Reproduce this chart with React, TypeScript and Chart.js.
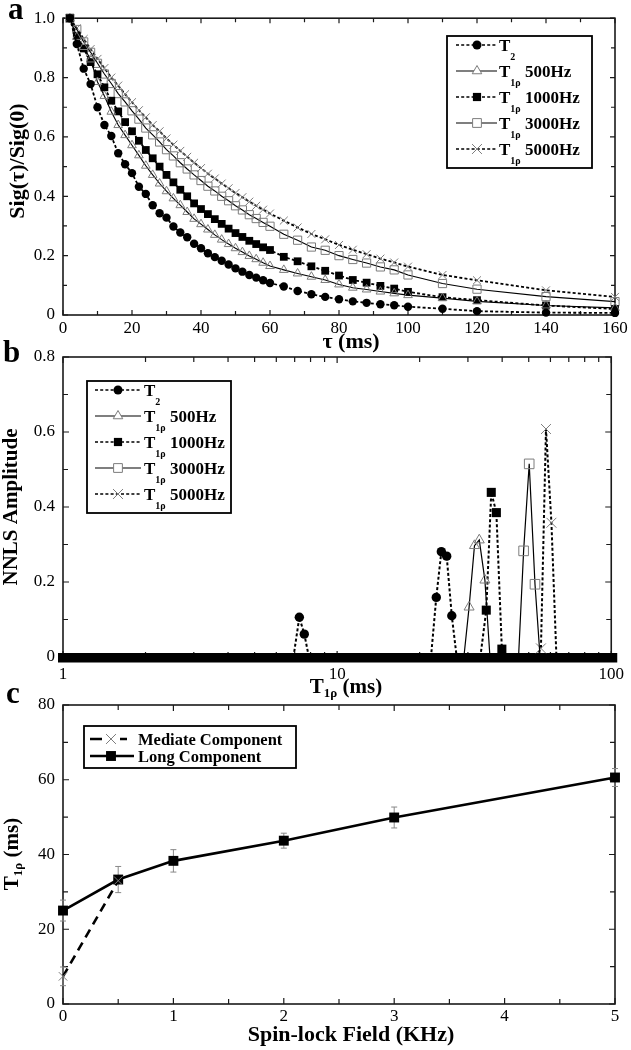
import React, { useEffect, useRef } from "react";
import { Chart, registerables } from "chart.js";

Chart.register(...registerables);

const SERIF = '"Liberation Serif", "Times New Roman", Times, serif';
const GRAY = "#7c7c7c";

// ---------------- Panel a : normalized signal decay ----------------
const tauMs = [2, 4, 6, 8, 10, 12, 14, 16, 18, 20, 22, 24, 26, 28, 30, 32, 34, 36, 38, 40, 42, 44, 46, 48, 50, 52, 54, 56, 58, 60, 64, 68, 72, 76, 80, 84, 88, 92, 96, 100, 110, 120, 140, 160];
const sigT2 = [1.0, 0.913, 0.83, 0.778, 0.7, 0.64, 0.603, 0.545, 0.508, 0.478, 0.432, 0.408, 0.37, 0.343, 0.328, 0.298, 0.278, 0.262, 0.24, 0.225, 0.208, 0.195, 0.183, 0.17, 0.157, 0.146, 0.135, 0.126, 0.117, 0.108, 0.096, 0.081, 0.07, 0.061, 0.053, 0.046, 0.041, 0.036, 0.033, 0.028, 0.021, 0.013, 0.008, 0.007];
const sig500 = [1.0, 0.937, 0.903, 0.861, 0.785, 0.738, 0.685, 0.64, 0.606, 0.572, 0.538, 0.503, 0.472, 0.443, 0.417, 0.393, 0.37, 0.347, 0.324, 0.306, 0.288, 0.27, 0.254, 0.239, 0.225, 0.212, 0.199, 0.188, 0.176, 0.165, 0.152, 0.14, 0.129, 0.118, 0.103, 0.092, 0.086, 0.079, 0.073, 0.067, 0.057, 0.046, 0.032, 0.024];
const sig1000 = [1.0, 0.94, 0.898, 0.852, 0.811, 0.767, 0.722, 0.686, 0.65, 0.619, 0.587, 0.556, 0.528, 0.5, 0.472, 0.447, 0.422, 0.4, 0.376, 0.357, 0.34, 0.323, 0.307, 0.291, 0.276, 0.263, 0.25, 0.239, 0.228, 0.219, 0.196, 0.181, 0.164, 0.149, 0.133, 0.118, 0.109, 0.098, 0.089, 0.078, 0.06, 0.05, 0.032, 0.02];
const sig3000 = [1.0, 0.962, 0.92, 0.885, 0.848, 0.812, 0.78, 0.746, 0.718, 0.688, 0.66, 0.63, 0.607, 0.583, 0.557, 0.536, 0.513, 0.492, 0.472, 0.453, 0.434, 0.418, 0.4, 0.385, 0.368, 0.354, 0.338, 0.325, 0.312, 0.299, 0.272, 0.252, 0.229, 0.218, 0.2, 0.187, 0.175, 0.162, 0.152, 0.135, 0.106, 0.087, 0.062, 0.045];
const sig5000 = [1.0, 0.966, 0.93, 0.896, 0.863, 0.832, 0.8, 0.773, 0.744, 0.717, 0.69, 0.666, 0.64, 0.619, 0.595, 0.574, 0.553, 0.533, 0.513, 0.495, 0.476, 0.46, 0.443, 0.427, 0.411, 0.397, 0.382, 0.368, 0.355, 0.342, 0.318, 0.295, 0.273, 0.255, 0.236, 0.22, 0.205, 0.19, 0.177, 0.163, 0.135, 0.117, 0.083, 0.061];
const aXTicks = [0, 20, 40, 60, 80, 100, 120, 140, 160];
const aXMinor = [10, 30, 50, 70, 90, 110, 130, 150];
const aYTicks = [0, 0.2, 0.4, 0.6, 0.8, 1];
const aYMinor = [0.1, 0.3, 0.5, 0.7, 0.9];

// ---------------- Panel b : NNLS spectra ----------------
const bT2X = [6.93, 7.28, 7.59, 7.89, 22.0, 23.0, 24.0, 25.1, 26.2, 27.3];
const bT2Y = [0, 0.106, 0.061, 0, 0, 0.159, 0.281, 0.269, 0.11, 0];
const b500X = [29.0, 30.3, 31.7, 33.0, 34.6, 36.1];
const b500Y = [0, 0.133, 0.297, 0.312, 0.205, 0];
const b1000X = [33.3, 35.0, 36.5, 38.1, 39.9, 41.6];
const b1000Y = [0, 0.125, 0.439, 0.385, 0.021, 0];
const b3000X = [45.9, 47.9, 50.2, 52.7, 55.0];
const b3000Y = [0, 0.283, 0.515, 0.194, 0];
const b5000X = [53.1, 55.4, 57.8, 60.5, 63.1];
const b5000Y = [0, 0.023, 0.608, 0.358, 0];
const bXTicks = [1, 10, 100];
const bXMinor = [2, 3, 4, 5, 6, 7, 8, 9, 20, 30, 40, 50, 60, 70, 80, 90];
const bYTicks = [0, 0.2, 0.4, 0.6, 0.8];
const bYMinor = [0.1, 0.3, 0.5, 0.7];

// ---------------- Panel c : T1rho vs spin-lock field ----------------
const longField = [0, 0.5, 1, 2, 3, 5];
const longT1rho = [25, 33.3, 38.3, 43.7, 49.9, 60.6];
const longErr = [2.8, 3.5, 3, 2, 2.8, 2.4];
const mediateField = [0, 0.5];
const mediateT1rho = [7.4, 33];
const mediateErr = [2.5, 0];
const cXTicks = [0, 1, 2, 3, 4, 5];
const cXMinor = [0.5, 1.5, 2.5, 3.5, 4.5];
const cYTicks = [0, 20, 40, 60, 80];
const cYMinor = [10, 30, 50, 70];

type Seg = { t: string; sub?: boolean };
type Mk = "circle" | "tri" | "sq" | "osq" | "x";

function drawRich(ctx: CanvasRenderingContext2D, segs: Seg[], x: number, y: number, size: number, subSize: number, subDy: number, align: "left" | "center") {
  const main = `bold ${size}px ${SERIF}`;
  const sub = `bold ${subSize}px ${SERIF}`;
  const widths = segs.map((s) => {
    ctx.font = s.sub ? sub : main;
    return ctx.measureText(s.t).width;
  });
  const total = widths.reduce((a, b) => a + b, 0);
  let cx = align === "center" ? x - total / 2 : x;
  ctx.textAlign = "left";
  ctx.textBaseline = "alphabetic";
  ctx.fillStyle = "#000";
  segs.forEach((s, i) => {
    ctx.font = s.sub ? sub : main;
    ctx.fillText(s.t, cx, s.sub ? y + subDy : y);
    cx += widths[i];
  });
}

function drawMarker(ctx: CanvasRenderingContext2D, mk: Mk, x: number, y: number, r: number) {
  ctx.save();
  ctx.setLineDash([]);
  ctx.lineWidth = 1;
  ctx.beginPath();
  if (mk === "circle") {
    ctx.arc(x, y, r, 0, Math.PI * 2);
    ctx.fillStyle = "#000";
    ctx.fill();
  } else if (mk === "sq" || mk === "osq") {
    const s = r * Math.SQRT1_2;
    ctx.rect(x - s, y - s, 2 * s, 2 * s);
    if (mk === "sq") {
      ctx.fillStyle = "#000";
      ctx.fill();
    } else {
      ctx.fillStyle = "#fff";
      ctx.fill();
      ctx.strokeStyle = GRAY;
      ctx.stroke();
    }
  } else if (mk === "tri") {
    let a = 0;
    ctx.moveTo(x + Math.sin(a) * r, y - Math.cos(a) * r);
    a += (2 * Math.PI) / 3;
    ctx.lineTo(x + Math.sin(a) * r, y - Math.cos(a) * r);
    a += (2 * Math.PI) / 3;
    ctx.lineTo(x + Math.sin(a) * r, y - Math.cos(a) * r);
    ctx.closePath();
    ctx.fillStyle = "#fff";
    ctx.fill();
    ctx.strokeStyle = GRAY;
    ctx.stroke();
  } else {
    const s = r * Math.SQRT1_2;
    ctx.moveTo(x - s, y - s);
    ctx.lineTo(x + s, y + s);
    ctx.moveTo(x + s, y - s);
    ctx.lineTo(x - s, y + s);
    ctx.strokeStyle = GRAY;
    ctx.stroke();
  }
  ctx.restore();
}

function pointProps(mk: Mk, r: number, zeroHidden = false) {
  const radius = zeroHidden ? (c: any) => (c.raw && c.raw.y === 0 ? 0 : r) : r;
  switch (mk) {
    case "circle":
      return { pointStyle: "circle", pointRadius: radius, pointBackgroundColor: "#000", pointBorderColor: "#000", pointBorderWidth: 0 };
    case "sq":
      return { pointStyle: "rect", pointRadius: radius, pointBackgroundColor: "#000", pointBorderColor: "#000", pointBorderWidth: 0 };
    case "osq":
      return { pointStyle: "rect", pointRadius: radius, pointBackgroundColor: "rgba(255,255,255,0)", pointBorderColor: GRAY, pointBorderWidth: 1 };
    case "tri":
      return { pointStyle: "triangle", pointRadius: radius, pointBackgroundColor: "rgba(255,255,255,0)", pointBorderColor: GRAY, pointBorderWidth: 1 };
    default:
      return { pointStyle: "crossRot", pointRadius: radius, pointBackgroundColor: GRAY, pointBorderColor: GRAY, pointBorderWidth: 1 };
  }
}

function series(xs: number[], ys: number[], mk: Mk, r: number, dash: number[], lw: number, zeroHidden = false) {
  return {
    data: xs.map((x, i) => ({ x, y: ys[i] })),
    showLine: true,
    borderColor: "#000",
    borderWidth: lw,
    borderDash: dash,
    clip: false,
    ...pointProps(mk, r, zeroHidden),
  };
}

interface LegendRow { segs: Seg[]; mk: Mk; dash: number[]; lw: number; r: number; segsLine?: number[][] }
interface Decor {
  top: number;
  xMajor: number[]; xMinor: number[]; yMajor: number[]; yMinor: number[];
  tickLen: number; minorLen: number;
  letter: { t: string; x: number; y: number };
  xTitle: { segs: Seg[]; cx: number; y: number; size: number; sub: number; subDy: number };
  yTitle: { segs: Seg[]; x: number; cy: number; size: number; sub: number; subDy: number };
  legend: { x: number; y: number; w: number; h: number; rowsY: number[]; lineX: [number, number]; markX: number; textX: number; size: number; sub: number; subDy: number; rows: LegendRow[] };
  band?: boolean;
  errors?: { xs: number[]; ys: number[]; es: number[] }[];
}

function decorPlugin(d: Decor, name: string) {
  const T = d.top;
  return {
    id: "decor" + name,
    beforeDatasetsDraw(chart: any) {
      const ctx: CanvasRenderingContext2D = chart.ctx;
      const { left, right, top, bottom } = chart.chartArea;
      const xs = chart.scales.x;
      const ys = chart.scales.y;
      ctx.save();
      ctx.strokeStyle = "#1a1a1a";
      ctx.lineWidth = 1.6;
      ctx.setLineDash([]);
      ctx.strokeRect(left, top, right - left, bottom - top);
      ctx.lineWidth = 1.2;
      ctx.beginPath();
      const xt = (v: number, len: number) => {
        const p = xs.getPixelForValue(v);
        ctx.moveTo(p, bottom);
        ctx.lineTo(p, bottom - len);
        ctx.moveTo(p, top);
        ctx.lineTo(p, top + len);
      };
      const yt = (v: number, len: number) => {
        const p = ys.getPixelForValue(v);
        ctx.moveTo(left, p);
        ctx.lineTo(left + len, p);
        ctx.moveTo(right, p);
        ctx.lineTo(right - len, p);
      };
      d.xMajor.forEach((v) => xt(v, d.tickLen));
      d.xMinor.forEach((v) => xt(v, d.minorLen));
      d.yMajor.forEach((v) => yt(v, d.tickLen));
      d.yMinor.forEach((v) => yt(v, d.minorLen));
      ctx.stroke();
      if (d.band) {
        const y0 = ys.getPixelForValue(0);
        ctx.fillStyle = "#000";
        ctx.fillRect(left - 5, y0 - 4, right - left + 11, 9.5);
      }
      if (d.errors) {
        ctx.strokeStyle = "#888";
        ctx.lineWidth = 1;
        ctx.beginPath();
        d.errors.forEach((e) => {
          e.xs.forEach((xv, i) => {
            if (!e.es[i]) return;
            const px = xs.getPixelForValue(xv);
            const y1 = ys.getPixelForValue(e.ys[i] + e.es[i]);
            const y2 = ys.getPixelForValue(e.ys[i] - e.es[i]);
            ctx.moveTo(px, y1);
            ctx.lineTo(px, y2);
            ctx.moveTo(px - 3, y1);
            ctx.lineTo(px + 3, y1);
            ctx.moveTo(px - 3, y2);
            ctx.lineTo(px + 3, y2);
          });
        });
        ctx.stroke();
      }
      ctx.restore();
    },
    afterDraw(chart: any) {
      const ctx: CanvasRenderingContext2D = chart.ctx;
      ctx.save();
      ctx.font = `bold 31px ${SERIF}`;
      ctx.fillStyle = "#000";
      ctx.textAlign = "left";
      ctx.textBaseline = "alphabetic";
      ctx.fillText(d.letter.t, d.letter.x, d.letter.y - T);
      const xt = d.xTitle;
      drawRich(ctx, xt.segs, xt.cx, xt.y - T, xt.size, xt.sub, xt.subDy, "center");
      const yt = d.yTitle;
      ctx.save();
      ctx.translate(yt.x, yt.cy - T);
      ctx.rotate(-Math.PI / 2);
      drawRich(ctx, yt.segs, 0, 0, yt.size, yt.sub, yt.subDy, "center");
      ctx.restore();
      const L = d.legend;
      ctx.fillStyle = "#fff";
      ctx.fillRect(L.x, L.y - T, L.w, L.h);
      ctx.strokeStyle = "#000";
      ctx.lineWidth = 1.8;
      ctx.setLineDash([]);
      ctx.strokeRect(L.x, L.y - T, L.w, L.h);
      L.rows.forEach((row, i) => {
        const ry = L.rowsY[i] - T;
        ctx.save();
        ctx.strokeStyle = "#000";
        ctx.lineWidth = row.lw;
        ctx.setLineDash(row.dash);
        ctx.beginPath();
        const segsLine = row.segsLine || [[L.lineX[0], L.lineX[1]]];
        segsLine.forEach(([a, b]) => {
          ctx.moveTo(a, ry);
          ctx.lineTo(b, ry);
        });
        ctx.stroke();
        ctx.restore();
        drawMarker(ctx, row.mk, L.markX, ry, row.r);
        drawRich(ctx, row.segs, L.textX, ry + 5.5, L.size, L.sub, L.subDy, "left");
      });
      ctx.restore();
    },
  };
}

interface AxisCfg { type: string; min: number; max: number; step?: number; ticks?: number[]; pad: number }

function makeConfig(datasets: any[], x: AxisCfg, y: AxisCfg, padTop: number, xH: number, deco: Decor, name: string) {
  const tickFont = { family: SERIF, size: 17, weight: "normal" as const };
  const axis = (a: AxisCfg, isX: boolean) => ({
    type: a.type,
    min: a.min,
    max: a.max,
    grid: { display: false, drawTicks: false },
    border: { display: false },
    ticks: {
      stepSize: a.step,
      font: tickFont,
      color: "#000",
      padding: a.pad,
      autoSkip: false,
      maxRotation: 0,
      ...(a.ticks ? { callback: (v: any) => String(v) } : {}),
    },
    ...(a.ticks ? { afterBuildTicks: (s: any) => { s.ticks = a.ticks!.map((v) => ({ value: v })); } } : {}),
    afterFit: (s: any) => {
      if (isX) s.height = xH;
      else s.width = 63;
    },
  });
  return {
    type: "scatter" as const,
    data: { datasets },
    options: {
      responsive: false,
      animation: false as const,
      devicePixelRatio: 1,
      events: [],
      layout: { padding: { left: 0, right: 16, top: padTop, bottom: 0 } },
      plugins: { legend: { display: false }, tooltip: { enabled: false }, title: { display: false } },
      scales: { x: axis(x, true), y: axis(y, false) },
    },
    plugins: [decorPlugin(deco, name)],
  };
}

const DOT = [3, 2.2];

function configA(top: number) {
  const ds = [
    series(tauMs, sigT2, "circle", 4.2, DOT, 1.8),
    series(tauMs, sig500, "tri", 5, [], 1.1),
    series(tauMs, sig1000, "sq", 5.5, DOT, 1.8),
    series(tauMs, sig3000, "osq", 5.8, [], 1.1),
    series(tauMs, sig5000, "x", 5.6, DOT, 1.8),
  ];
  const sub = (s: string): Seg[] => [{ t: "T" }, { t: s, sub: true }];
  const deco: Decor = {
    top,
    xMajor: aXTicks, xMinor: aXMinor, yMajor: aYTicks, yMinor: aYMinor,
    tickLen: 5, minorLen: 4,
    letter: { t: "a", x: 8, y: 19 },
    xTitle: { segs: [{ t: "τ (ms)" }], cx: 351, y: 348, size: 22, sub: 13, subDy: 4 },
    yTitle: { segs: [{ t: "Sig(τ)/Sig(0)" }], x: 24, cy: 161, size: 22, sub: 13, subDy: 4 },
    legend: {
      x: 447, y: 36, w: 145, h: 132, rowsY: [45, 71, 97, 123, 149], lineX: [456, 497], markX: 477, textX: 499, size: 17, sub: 10, subDy: 9,
      rows: [
        { segs: sub("2"), mk: "circle", dash: DOT, lw: 1.6, r: 4.5 },
        { segs: [...sub("1ρ"), { t: " 500Hz" }], mk: "tri", dash: [], lw: 1.2, r: 5.5 },
        { segs: [...sub("1ρ"), { t: " 1000Hz" }], mk: "sq", dash: DOT, lw: 1.6, r: 5.8 },
        { segs: [...sub("1ρ"), { t: " 3000Hz" }], mk: "osq", dash: [], lw: 1.2, r: 6.2 },
        { segs: [...sub("1ρ"), { t: " 5000Hz" }], mk: "x", dash: DOT, lw: 1.6, r: 7 },
      ],
    },
  };
  return makeConfig(ds, { type: "linear", min: 0, max: 160, step: 20, pad: 3 }, { type: "linear", min: 0, max: 1, step: 0.2, pad: 8 }, 15, 40, deco, "a");
}

function configB(top: number) {
  const ds = [
    series(bT2X, bT2Y, "circle", 4.7, DOT, 2, true),
    series(b500X, b500Y, "tri", 5.8, [], 1.2, true),
    series(b1000X, b1000Y, "sq", 6.4, DOT, 2, true),
    series(b3000X, b3000Y, "osq", 6.8, [], 1.2, true),
    series(b5000X, b5000Y, "x", 7, DOT, 2, true),
  ];
  const sub = (s: string): Seg[] => [{ t: "T" }, { t: s, sub: true }];
  const deco: Decor = {
    top,
    xMajor: bXTicks, xMinor: bXMinor, yMajor: bYTicks, yMinor: bYMinor,
    tickLen: 6, minorLen: 5,
    letter: { t: "b", x: 3, y: 362 },
    xTitle: { segs: [{ t: "T" }, { t: "1ρ", sub: true }, { t: " (ms)" }], cx: 346, y: 693, size: 21, sub: 13, subDy: 4 },
    yTitle: { segs: [{ t: "NNLS Amplitude" }], x: 17, cy: 507, size: 21, sub: 13, subDy: 4 },
    legend: {
      x: 87, y: 381, w: 144, h: 132, rowsY: [390, 416, 442, 468, 494], lineX: [95, 141], markX: 118, textX: 144, size: 17, sub: 10, subDy: 9,
      rows: [
        { segs: sub("2"), mk: "circle", dash: DOT, lw: 1.6, r: 4.5 },
        { segs: [...sub("1ρ"), { t: " 500Hz" }], mk: "tri", dash: [], lw: 1.2, r: 5.5 },
        { segs: [...sub("1ρ"), { t: " 1000Hz" }], mk: "sq", dash: DOT, lw: 1.6, r: 5.8 },
        { segs: [...sub("1ρ"), { t: " 3000Hz" }], mk: "osq", dash: [], lw: 1.2, r: 6.2 },
        { segs: [...sub("1ρ"), { t: " 5000Hz" }], mk: "x", dash: DOT, lw: 1.6, r: 7 },
      ],
    },
    band: true,
  };
  return makeConfig(ds, { type: "logarithmic", min: 1, max: 100, ticks: bXTicks, pad: 7 }, { type: "linear", min: 0, max: 0.8, step: 0.2, pad: 8 }, 22, 43, deco, "b");
}

function configC(top: number) {
  const ds = [
    series(mediateField, mediateT1rho, "x", 6, [9, 6], 2.6),
    series(longField, longT1rho, "sq", 7, [], 2.6),
  ];
  const deco: Decor = {
    top,
    xMajor: cXTicks, xMinor: cXMinor, yMajor: cYTicks, yMinor: cYMinor,
    tickLen: 6, minorLen: 5,
    letter: { t: "c", x: 6, y: 703 },
    xTitle: { segs: [{ t: "Spin-lock Field (KHz)" }], cx: 351, y: 1041, size: 22, sub: 13, subDy: 4 },
    yTitle: { segs: [{ t: "T" }, { t: "1ρ", sub: true }, { t: " (ms)" }], x: 18, cy: 854, size: 21, sub: 13, subDy: 4 },
    legend: {
      x: 84, y: 726, w: 212, h: 42, rowsY: [739, 756], lineX: [90, 134], markX: 111, textX: 138, size: 16.5, sub: 10, subDy: 9,
      rows: [
        { segs: [{ t: "Mediate Component" }], mk: "x", dash: [], lw: 2.6, r: 7, segsLine: [[90, 102], [120, 127]] },
        { segs: [{ t: "Long Component" }], mk: "sq", dash: [], lw: 2.6, r: 7 },
      ],
    },
    errors: [
      { xs: longField, ys: longT1rho, es: longErr },
      { xs: mediateField, ys: mediateT1rho, es: mediateErr },
    ],
  };
  return makeConfig(ds, { type: "linear", min: 0, max: 5, step: 1, pad: 2 }, { type: "linear", min: 0, max: 80, step: 20, pad: 8 }, 25, 46, deco, "c");
}

function Panel({ top, height, make }: { top: number; height: number; make: (top: number) => any }) {
  const ref = useRef<HTMLCanvasElement>(null);
  useEffect(() => {
    const chart = new Chart(ref.current as HTMLCanvasElement, make(top));
    return () => chart.destroy();
  }, []);
  return (
    <canvas
      ref={ref}
      width={631}
      height={height}
      style={{ position: "absolute", left: 0, top, width: 631, height, display: "block" }}
    />
  );
}

export default function App() {
  return (
    <div style={{ position: "absolute", left: 0, top: 0, width: 631, height: 1050, background: "#fff" }}>
      <Panel top={0} height={355} make={configA} />
      <Panel top={335} height={365} make={configB} />
      <Panel top={680} height={370} make={configC} />
    </div>
  );
}
